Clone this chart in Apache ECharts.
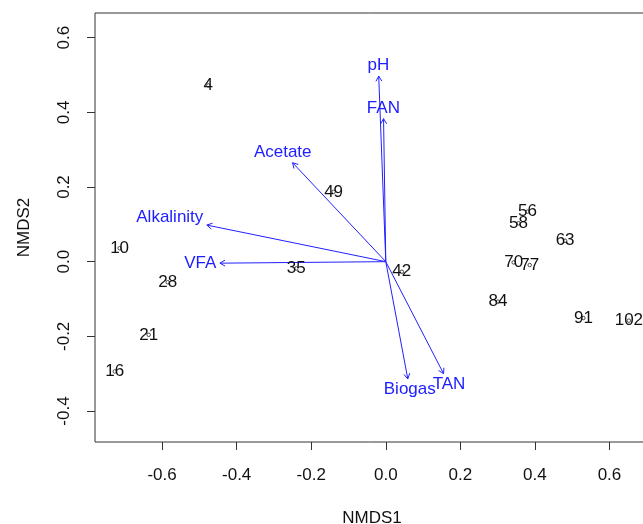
<!DOCTYPE html>
<html>
<head>
<meta charset="utf-8">
<script src="https://cdn.jsdelivr.net/npm/echarts@6/dist/echarts.min.js"></script>
<style>
  html, body {margin: 0; padding: 0; background: #fff;}
  #chart {width: 643px; height: 524px;}
</style>
</head>
<body>
<div id="chart"></div>
<script>
// site scores (NMDS1, NMDS2)
const sites = ['4', '49', '10', '28', '21', '16', '35', '42', '56', '58', '63', '70', '77', '84', '91', '102']
const siteX = [-0.476, -0.14, -0.714, -0.585, -0.636, -0.727, -0.24, 0.043, 0.38, 0.356, 0.481, 0.343, 0.386, 0.301, 0.53, 0.652]
const siteY = [0.472, 0.187, 0.036, -0.055, -0.196, -0.294, -0.018, -0.027, 0.134, 0.103, 0.056, -0.002, -0.009, -0.107, -0.151, -0.158]

// envfit vectors
const vars = ['pH', 'FAN', 'Acetate', 'Alkalinity', 'VFA', 'Biogas', 'TAN']
const varX = [-0.019, -0.006, -0.25, -0.48, -0.445, 0.059, 0.155]
const varY = [0.497, 0.383, 0.265, 0.098, -0.004, -0.314, -0.3]

const xTicks = [-0.6, -0.4, -0.2, 0.0, 0.2, 0.4, 0.6]
const yTicks = [-0.4, -0.2, 0.0, 0.2, 0.4, 0.6]

const FONT = 'Liberation Sans, Arial, sans-serif'
const BLUE = '#2020ff'
const INK = '#111'

const ctx = document.createElement('canvas').getContext('2d')
ctx.font = `17px ${FONT}`
const textW = s => ctx.measureText(s).width

// like vegan ordiArrowTextXY: put label beyond the arrow head
function labelPos(o, t, w, h) {
  const dx = t[0] - o[0]
  const dy = t[1] - o[1]
  const b = dy / dx
  let ox = Math.sign(dx) * (w / 2 + h / 4)
  let oy = 0.75 * h * Math.sign(dy)
  const move = oy / b
  if (Number.isFinite(move) && Math.abs(move) <= Math.abs(ox)) ox = move
  else oy = b * ox
  return [t[0] + ox, t[1] + oy]
}

function renderArrow(params, api) {
  const o = api.coord([0, 0])
  const t = api.coord([api.value(0), api.value(1)])
  const name = vars[api.value(2)]
  const ang = Math.atan2(t[1] - o[1], t[0] - o[0])
  const len = 6
  const a1 = ang + Math.PI - Math.PI / 6
  const a2 = ang + Math.PI + Math.PI / 6
  const p = labelPos(o, t, textW(name), 14)
  const st = {stroke: BLUE, lineWidth: 1, fill: null}
  return {
    type: 'group',
    children: [
      {type: 'line', shape: {x1: o[0], y1: o[1], x2: t[0], y2: t[1]}, style: st},
      {
        type: 'polyline',
        shape: {
          points: [
            [t[0] + len * Math.cos(a1), t[1] + len * Math.sin(a1)],
            t,
            [t[0] + len * Math.cos(a2), t[1] + len * Math.sin(a2)],
          ],
        },
        style: st,
      },
      {
        type: 'text',
        x: p[0],
        y: p[1],
        style: {text: name, fill: BLUE, font: `17px ${FONT}`, align: 'center', verticalAlign: 'middle'},
      },
    ],
  }
}

const chart = echarts.init(document.getElementById('chart'))

const axisCommon = {
  type: 'value',
  splitLine: {show: false},
  axisLine: {show: false, onZero: false},
  axisTick: {show: true, inside: false, length: 8, lineStyle: {color: '#333'}},
  nameLocation: 'middle',
  nameTextStyle: {color: INK, fontSize: 17, fontFamily: FONT},
}

chart.setOption({
  animation: false,
  grid: {
    left: 95,
    top: 13,
    right: -6,
    bottom: 82,
    outerBoundsMode: 'none',
    containLabel: false,
    show: true,
    borderColor: '#333',
    borderWidth: 1,
  },
  xAxis: {
    ...axisCommon,
    min: -0.78,
    max: 0.706,
    position: 'bottom',
    axisTick: {...axisCommon.axisTick, customValues: xTicks},
    axisLabel: {
      customValues: xTicks,
      color: INK,
      fontSize: 17,
      fontFamily: FONT,
      margin: 25,
      formatter: v => v.toFixed(1),
    },
    name: 'NMDS1',
    nameGap: 68,
  },
  yAxis: {
    ...axisCommon,
    min: -0.483,
    max: 0.666,
    position: 'left',
    axisTick: {...axisCommon.axisTick, customValues: yTicks},
    axisLabel: {
      customValues: yTicks,
      color: INK,
      fontSize: 17,
      fontFamily: FONT,
      margin: 22,
      rotate: 90,
      formatter: v => v.toFixed(1),
    },
    name: 'NMDS2',
    nameGap: 62,
    nameRotate: 90,
  },
  series: [
    {
      type: 'custom',
      renderItem: renderArrow,
      data: vars.map((v, i) => [varX[i], varY[i], i]),
      z: 2,
    },
    {
      type: 'scatter',
      symbol: 'circle',
      symbolSize: 3.5,
      itemStyle: {color: 'rgba(0,0,0,0)', borderColor: '#222', borderWidth: 0.8, opacity: 1},
      label: {
        show: true,
        position: 'inside',
        color: INK,
        fontSize: 17,
        fontFamily: FONT,
        formatter: p => p.data[2],
      },
      data: sites.map((s, i) => [siteX[i], siteY[i], s]),
      z: 3,
    },
  ],
})
</script>
</body>
</html>
